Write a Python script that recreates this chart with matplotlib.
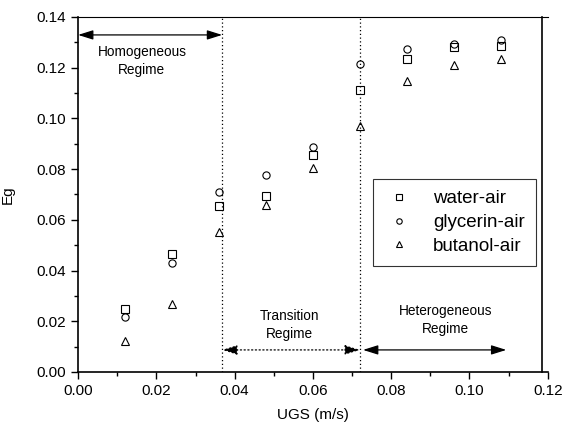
import matplotlib
matplotlib.use("Agg")
import matplotlib.pyplot as plt
from matplotlib.ticker import MultipleLocator, FormatStrFormatter

plt.rcParams['font.family'] = ['Liberation Sans', 'DejaVu Sans']

ugs = [0.012, 0.024, 0.036, 0.048, 0.060, 0.072, 0.084, 0.096, 0.108]
water_air = [0.0247, 0.0464, 0.0656, 0.0695, 0.0854, 0.1112, 0.1236, 0.1283, 0.1287]
glycerin_air = [0.0216, 0.0431, 0.0708, 0.0777, 0.0888, 0.1215, 0.1274, 0.1292, 0.1309]
butanol_air = [0.0122, 0.0267, 0.0551, 0.0658, 0.0803, 0.0970, 0.1147, 0.1209, 0.1233]

# regime boundaries
homo_end = 0.0368
trans_end = 0.0720


def main():
    fig = plt.figure(figsize=(5.70, 4.23), dpi=100)
    ax = fig.add_axes([0.137, 0.1206, 0.824, 0.8394])

    mk = dict(linestyle="none", markerfacecolor="none",
              markeredgecolor="black", markeredgewidth=0.8, markersize=5.2)
    ax.plot(ugs, water_air, marker="s", label="water-air", **mk)
    ax.plot(ugs, glycerin_air, marker="o", label="glycerin-air", **mk)
    ax.plot(ugs, butanol_air, marker="^", label="butanol-air", **mk)

    ax.axvline(homo_end, color="black", linestyle=(0, (1, 2)), linewidth=0.9)
    ax.axvline(trans_end, color="black", linestyle=(0, (1, 2)), linewidth=0.9)

    head = "<|-|>,head_length=0.7,head_width=0.22"
    arrow_solid = dict(arrowstyle=head, color="black", lw=0.9,
                       mutation_scale=13, shrinkA=0, shrinkB=0)
    arrow_dot = dict(arrowstyle=head, color="black", lw=0.9,
                     linestyle=(0, (1, 2)), mutation_scale=13,
                     shrinkA=0, shrinkB=0)

    ax.annotate("", xy=(0.0, 0.1329), xytext=(homo_end, 0.1329),
                arrowprops=arrow_solid)
    ax.text(0.0163, 0.1226, "Homogeneous\nRegime", ha="center",
            va="center", fontsize=9.8, linespacing=1.35)

    ax.annotate("", xy=(homo_end, 0.0087), xytext=(trans_end, 0.0087),
                arrowprops=arrow_dot)
    ax.text(0.0541, 0.0185, "Transition\nRegime", ha="center",
            va="center", fontsize=9.8, linespacing=1.35)

    ax.annotate("", xy=(0.0728, 0.0087), xytext=(0.1094, 0.0087),
                arrowprops=arrow_solid)
    ax.text(0.0939, 0.0205, "Heterogeneous\nRegime", ha="center",
            va="center", fontsize=9.8, linespacing=1.35)

    ax.set_xlim(0, 0.12)
    ax.set_ylim(0, 0.14)
    ax.xaxis.set_major_locator(MultipleLocator(0.02))
    ax.xaxis.set_minor_locator(MultipleLocator(0.01))
    ax.yaxis.set_major_locator(MultipleLocator(0.02))
    ax.yaxis.set_minor_locator(MultipleLocator(0.01))
    ax.xaxis.set_major_formatter(FormatStrFormatter("%.2f"))
    ax.yaxis.set_major_formatter(FormatStrFormatter("%.2f"))
    ax.tick_params(which="both", direction="out", top=False, right=False,
                   labelsize=11, width=1.0)
    ax.tick_params(which="major", length=5)
    ax.tick_params(which="minor", length=3)

    for side in ["left", "bottom"]:
        ax.spines[side].set_linewidth(1.2)
    ax.spines["top"].set_linewidth(0.8)
    ax.spines["right"].set_linewidth(1.2)
    ax.spines["right"].set_position(("data", 0.1185))

    ax.set_xlabel("UGS (m/s)", fontsize=11, labelpad=7)
    ax.set_ylabel("Eg", fontsize=11, labelpad=16)

    leg = ax.legend(loc="upper left", bbox_to_anchor=(0.628, 0.5437),
                    fontsize=13.5, markerscale=0.75, frameon=True,
                    fancybox=False, edgecolor="black", handletextpad=1.0,
                    borderpad=0.6, labelspacing=0.36, handlelength=1.6,
                    borderaxespad=0)
    leg.get_frame().set_linewidth(0.8)

    fig.savefig("out.png", dpi=100)


if __name__ == "__main__":
    main()
